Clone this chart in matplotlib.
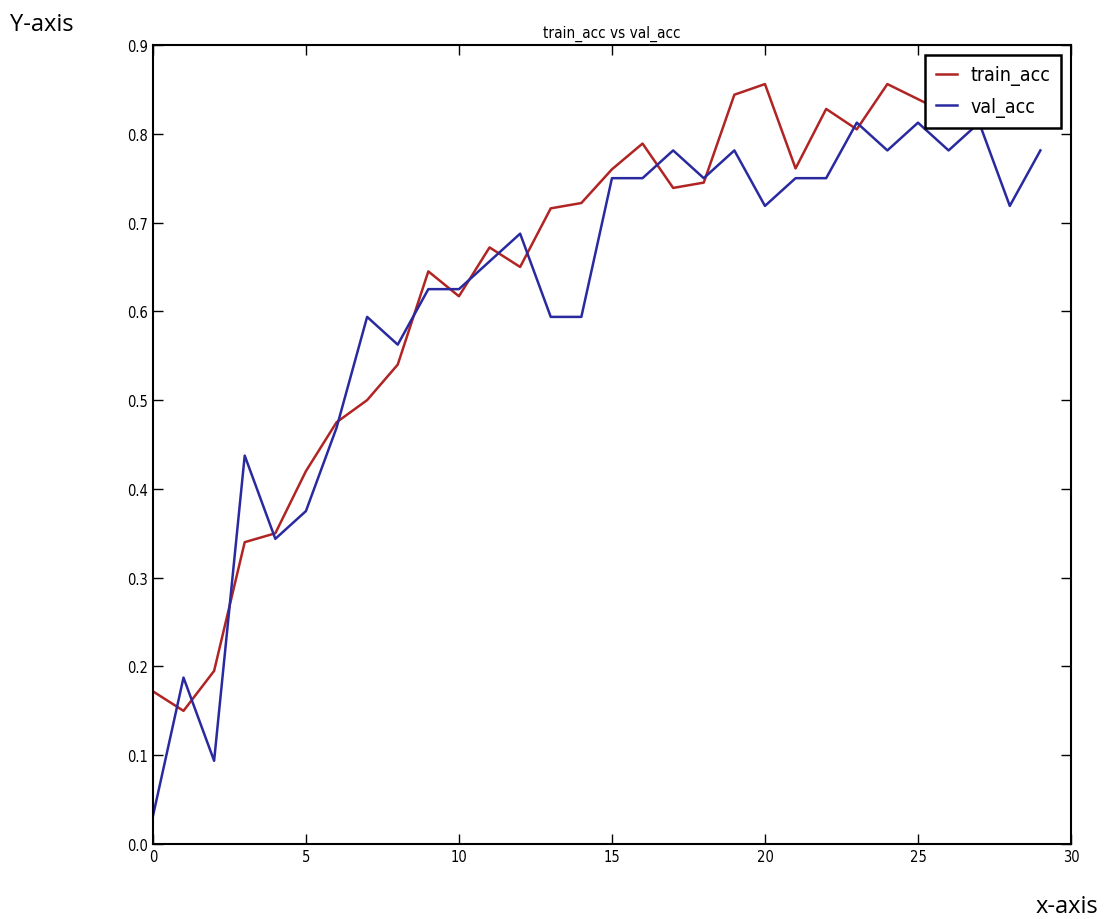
import numpy as np
import matplotlib.pyplot as plt

epochs = list(range(30))
train_acc = [0.172, 0.150, 0.195, 0.340, 0.350, 0.420, 0.475, 0.500, 0.540, 0.645,
             0.617, 0.672, 0.650, 0.716, 0.722, 0.760, 0.789, 0.739, 0.745, 0.844,
             0.856, 0.761, 0.828, 0.805, 0.856, 0.839, 0.822, 0.830, 0.840, 0.850]
val_acc = [0.03125, 0.1875, 0.09375, 0.4375, 0.34375, 0.375, 0.46875, 0.59375, 0.5625, 0.625,
           0.625, 0.65625, 0.6875, 0.59375, 0.59375, 0.75, 0.75, 0.78125, 0.75, 0.78125,
           0.71875, 0.75, 0.75, 0.8125, 0.78125, 0.8125, 0.78125, 0.8125, 0.71875, 0.78125]

plt.rcParams['font.family'] = 'DejaVu Sans'
plt.rcParams['font.stretch'] = 'condensed'

fig = plt.figure(figsize=(11.08, 9.2), dpi=100)
ax = fig.add_axes([0.138, 0.0815, 0.8286, 0.8685])

ax.plot(epochs, train_acc, color='#b02424', lw=1.8, label='train_acc')
ax.plot(epochs, val_acc, color='#2a2aa0', lw=1.8, label='val_acc')

ax.set_xlim(0, 30)
ax.set_ylim(0, 0.9)
ax.set_xticks(range(0, 31, 5))
ax.set_yticks(np.arange(0, 0.91, 0.1))
ax.set_yticklabels(['%.1f' % v for v in np.arange(0, 0.91, 0.1)])
ax.tick_params(direction='in', top=True, right=True, length=7, width=1, labelsize=10.5)
for s in ax.spines.values():
    s.set_linewidth(1.5)
ax.set_title('train_acc vs val_acc', fontsize=11, pad=6)

leg = ax.legend(loc='upper right', fontsize=14, fancybox=False, framealpha=1,
                edgecolor='black', borderaxespad=0.5, handlelength=1.1,
                labelspacing=0.6, handletextpad=0.7, borderpad=0.55)
leg.get_frame().set_linewidth(1.8)

fig.text(0.009, 0.973, 'Y-axis', fontsize=17, family='Open Sans', stretch='normal', va='center')
fig.text(0.935, 0.001, 'x-axis', fontsize=17, family='Open Sans', stretch='normal', va='bottom')

fig.savefig('out.png', dpi=100)
